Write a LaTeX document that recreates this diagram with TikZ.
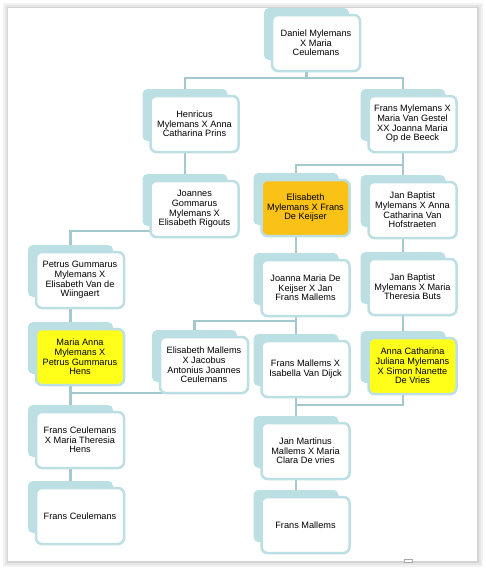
\documentclass[tikz,border=0pt]{standalone}
\usepackage{fontspec}
\setmainfont{Liberation Sans}
\usepackage{tikz}
\usetikzlibrary{calc}

\definecolor{tealback}{RGB}{187,223,227}
\definecolor{tealline}{RGB}{163,200,205}
\definecolor{boxorange}{RGB}{250,193,22}
\definecolor{boxyellow}{RGB}{255,255,26}

\begin{document}
\begin{tikzpicture}[x=1pt,y=-1pt,
	back/.style={fill=tealback,rounded corners=5pt,minimum width=85pt,minimum height=52pt,inner sep=0pt},
	front/.style={draw=tealback,line width=2.5pt,fill=white,rounded corners=6pt,minimum width=88pt,minimum height=56pt,inner sep=0pt,align=center,font=\fontsize{9.2}{9.6}\selectfont},
	link/.style={draw=tealline,line width=2.8pt}]
			\useasboundingbox (0,0) rectangle (485,570);
			\fill[black!5] (3,3) rectangle (483,567);
			\fill[black!10] (5,5) rectangle (481,565);
			\fill[black!17] (7,7) rectangle (479,563);
			\fill[white] (8,8) rectangle (477,561);
			\draw[black!35,fill=white,line width=0.6pt] (404,559) rectangle (412,562);
			
			\node (a) [back] at (306.5,34){};
			\node (b) [back] at (185,115){};
			\node (c) [back] at (403,115){};
			\node (d) [back] at (185,200){};
			\node (e) [back] at (296,199){};
			\node (f) [back] at (403,201){};
			\node (g) [back] at (70.5,271){};
			\node (h) [back] at (296,279){};
			\node (i) [back] at (403,278){};
			\node (j) [back] at (70.5,348){};
			\node (k) [back] at (194.5,356){};
			\node (l) [back] at (296,360){};
			\node (m) [back] at (403,357){};
			\node (n) [back] at (70.5,431){};
			\node (o) [back] at (296,442){};
			\node (p) [back] at (70.5,507){};
			\node (q) [back] at (296,516){};
			
			\draw[link] (a)--++(0,44)-|(b);
			\draw[link] (a)--++(0,44)-|(c);
			\draw[link] (b)--(d);
			\draw[link] (c)--++(0,50)-|(e);
			\draw[link] (c)--(f);
			\draw[link] (d)--++(0,31)-|(g);
			\draw[link] (e)--(h);
			\draw[link] (f)--(i);
			\draw[link] (g)--(j);
			\draw[link] (h)--++(0,42)-|(k);
			\draw[link] (h)--(l);
			\draw[link] (i)--(m);
			\draw[link] (k)--++(0,37)-|(n);
			\draw[link] (j)--(n);
			\draw[link] (l)--(o);
			\draw[link] (m)--++(0,48)-|(o);
			\draw[link] (n)--(p);
			\draw[link] (o)--(q);
			
			\node (A) [front] at ($(a)+(9.5,9)$){Daniel Mylemans\\X Maria\\Ceulemans};
			\node (B) [front] at ($(b)+(9.5,9)$){Henricus\\Mylemans X Anna\\Catharina Prins};
			\node (C) [front] at ($(c)+(9.5,9)$){Frans Mylemans X\\Maria Van Gestel\\XX Joanna Maria\\Op de Beeck};
			\node (D) [front] at ($(d)+(9.5,9)$){Joannes\\Gommarus\\Mylemans X\\Elisabeth Rigouts};
			\node (E) [front,fill=boxorange] at ($(e)+(9.5,9)$){Elisabeth\\Mylemans X Frans\\De Keijser};
			\node (F) [front] at ($(f)+(9.5,9)$){Jan Baptist\\Mylemans X Anna\\Catharina Van\\Hofstraeten};
			\node (G) [front] at ($(g)+(9.5,9)$){Petrus Gummarus\\Mylemans X\\Elisabeth Van de\\Wiingaert};
			\node (H) [front] at ($(h)+(9.5,9)$){Joanna Maria De\\Keijser X Jan\\Frans Mallems};
			\node (I) [front] at ($(i)+(9.5,9)$){Jan Baptist\\Mylemans X Maria\\Theresia Buts};
			\node (J) [front,fill=boxyellow] at ($(j)+(9.5,9)$){Maria Anna\\Mylemans X\\Petrus Gummarus\\Hens};
			\node (K) [front] at ($(k)+(9.5,9)$){Elisabeth Mallems\\X Jacobus\\Antonius Joannes\\Ceulemans};
			\node (L) [front] at ($(l)+(9.5,9)$){Frans Mallems X\\Isabella Van Dijck};
			\node (M) [front,fill=boxyellow] at ($(m)+(9.5,9)$){Anna Catharina\\Juliana Mylemans\\X Simon Nanette\\De Vries};
			\node (N) [front] at ($(n)+(9.5,9)$){Frans Ceulemans\\X Maria Theresia\\Hens};
			\node (O) [front] at ($(o)+(9.5,9)$){Jan Martinus\\Mallems X Maria\\Clara De vries};
			\node (P) [front] at ($(p)+(9.5,9)$){Frans Ceulemans};
			\node (Q) [front] at ($(q)+(9.5,9)$){Frans Mallems};
		\end{tikzpicture}
\end{document}
